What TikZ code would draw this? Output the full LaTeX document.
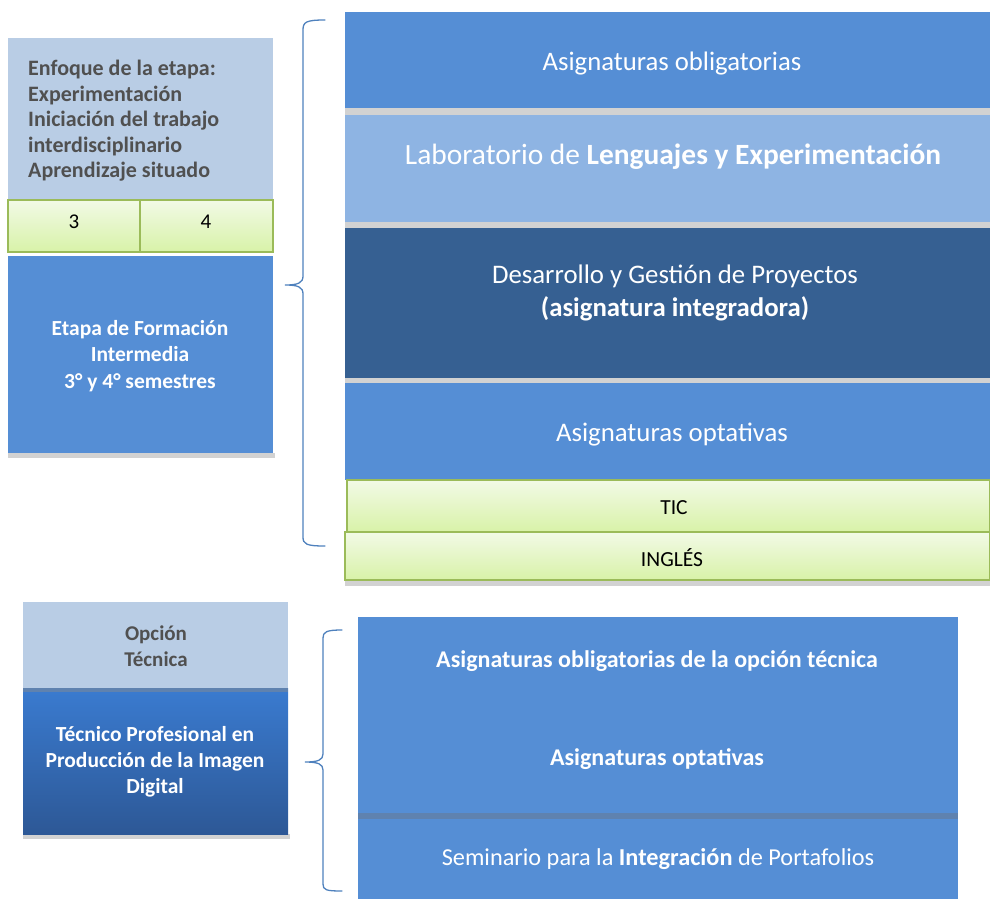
\documentclass[tikz,border=0pt]{standalone}
\usepackage{fontspec}
\setmainfont{Carlito}
\definecolor{mainblue}{RGB}{85,142,213}
\definecolor{paleblue}{RGB}{185,205,229}
\definecolor{labblue}{RGB}{142,180,227}
\definecolor{darkblue}{RGB}{54,96,146}
\definecolor{txtgray}{RGB}{80,80,80}
\definecolor{sepgray}{RGB}{210,210,210}
\definecolor{greenedge}{RGB}{155,187,89}
\definecolor{greentop}{RGB}{242,250,230}
\definecolor{greenbot}{RGB}{216,242,168}
\definecolor{bracecol}{RGB}{79,129,189}
\definecolor{techtop}{RGB}{58,123,208}
\definecolor{techbot}{RGB}{45,88,150}
\definecolor{techsep}{RGB}{95,130,175}
\tikzset{
  box/.style={inner sep=0pt, outer sep=0pt, anchor=north west},
  greencell/.style={box, draw=greenedge, line width=1.5pt, top color=greentop, bottom color=greenbot},
  wtxt/.style={text=white, align=center, inner sep=0pt},
  shadowbar/.style={fill=sepgray},
  bracestyle/.style={draw=bracecol, line width=1.3pt, line cap=round},
}
\begin{document}
\begin{tikzpicture}[x=1pt,y=-1pt]
\useasboundingbox (0,0) rectangle (990,899);
% ---------- left top ----------
\fill[shadowbar] (8,453) rectangle (275,458);
\node[box, fill=paleblue, minimum width=265pt, minimum height=162pt] (enf) at (8,38) {};
\node[anchor=west, text=txtgray, align=left, inner sep=0pt, font=\fontsize{22}{25.5}\selectfont\bfseries] (enft) at (28,121)
 {Enfoque de la etapa:\\Experimentación\\Iniciación del trabajo\\interdisciplinario\\Aprendizaje situado};
\node[greencell, minimum width=132pt, minimum height=52pt] (c3) at (8,200) {};
\node[greencell, minimum width=133pt, minimum height=52pt] (c4) at (140,200) {};
\node[font=\fontsize{21}{24}\selectfont] (t3) at (74,222) {3};
\node[font=\fontsize{21}{24}\selectfont] (t4) at (206,222) {4};
\node[box, fill=mainblue, minimum width=265pt, minimum height=197pt] (etapa) at (8,256) {};
\node[wtxt, font=\fontsize{21.5}{26.5}\selectfont\bfseries] (etapat) at (140,356)
 {Etapa de Formación\\Intermedia\\3° y 4° semestres};
% brace 1
\draw[bracestyle] (325,20) .. controls (306,20) and (303,22) .. (303,30)
  -- (303,276) .. controls (303,283) and (298,285) .. (285,285)
  .. controls (298,285) and (303,287) .. (303,294)
  -- (303,537) .. controls (303,544) and (306,546) .. (325,546);
% ---------- right stack ----------
\fill[shadowbar] (345,108) rectangle (990,115);
\fill[shadowbar] (345,222) rectangle (990,228);
\fill[shadowbar] (345,378) rectangle (990,383);
\fill[shadowbar] (345,580) rectangle (990,586);
\node[box, fill=mainblue, minimum width=645pt, minimum height=96pt] (oblig) at (345,12) {};
\node[wtxt, font=\fontsize{26.7}{30}\selectfont] (obligt) at (672,64) {Asignaturas obligatorias};
\node[box, fill=labblue, minimum width=645pt, minimum height=107pt] (lab) at (345,115) {};
\node[wtxt, font=\fontsize{29.4}{32}\selectfont] (labt) at (673,157) {Laboratorio de \textbf{Lenguajes y Experimentación}};
\node[box, fill=darkblue, minimum width=645pt, minimum height=150pt] (desa) at (345,228) {};
\node[wtxt, font=\fontsize{26.8}{33}\selectfont] (desat) at (675,293) {Desarrollo y Gestión de Proyectos\\\textbf{(asignatura integradora)}};
\node[box, fill=mainblue, minimum width=645pt, minimum height=97pt] (opt) at (345,383) {};
\node[wtxt, font=\fontsize{26.8}{30}\selectfont] (optt) at (672,435) {Asignaturas optativas};
\node[greencell, minimum width=643pt, minimum height=52pt] (tic) at (347,480) {};
\node[font=\fontsize{21.5}{24}\selectfont] (tict) at (674,508) {TIC};
\node[greencell, minimum width=645pt, minimum height=48pt] (ing) at (345,532) {};
\node[font=\fontsize{21.5}{24}\selectfont] (ingt) at (672,558) {INGLÉS};
% ---------- bottom left ----------
\fill[shadowbar] (23,834) rectangle (290,839);
\node[box, fill=paleblue, minimum width=265pt, minimum height=86pt] (opc) at (23,602) {};
\node[text=txtgray, align=center, inner sep=0pt, font=\fontsize{21}{26}\selectfont\bfseries] (opct) at (156,646) {Opción\\Técnica};
\node[box, top color=techtop, bottom color=techbot, minimum width=265pt, minimum height=146pt] (tec) at (23,688) {};
\fill[techsep] (23,688) rectangle (288,692);
\node[wtxt, font=\fontsize{21.5}{26}\selectfont\bfseries] (tect) at (155,762) {Técnico Profesional en\\Producción de la Imagen\\Digital};
% brace 2
\draw[bracestyle] (342,630) .. controls (326,630) and (323,632) .. (323,638)
  -- (323,754) .. controls (323,760) and (318,762) .. (305,762)
  .. controls (318,762) and (323,764) .. (323,770)
  -- (323,884) .. controls (323,890) and (326,891) .. (342,891);
% ---------- bottom right ----------
\node[box, fill=mainblue, minimum width=600pt, minimum height=196pt] (tobl) at (358,617) {};
\node[wtxt, font=\fontsize{24}{28}\selectfont\bfseries] (toblt) at (657,661) {Asignaturas obligatorias de la opción técnica};
\node[wtxt, font=\fontsize{24}{28}\selectfont\bfseries] (toptt) at (657,759) {Asignaturas optativas};
\fill[techsep] (358,813) rectangle (958,819);
\node[box, fill=mainblue, minimum width=600pt, minimum height=80pt] (sem) at (358,819) {};
\node[wtxt, font=\fontsize{24.3}{28}\selectfont] (semt) at (658,859) {Seminario para la \textbf{Integración} de Portafolios};
\end{tikzpicture}
\end{document}
